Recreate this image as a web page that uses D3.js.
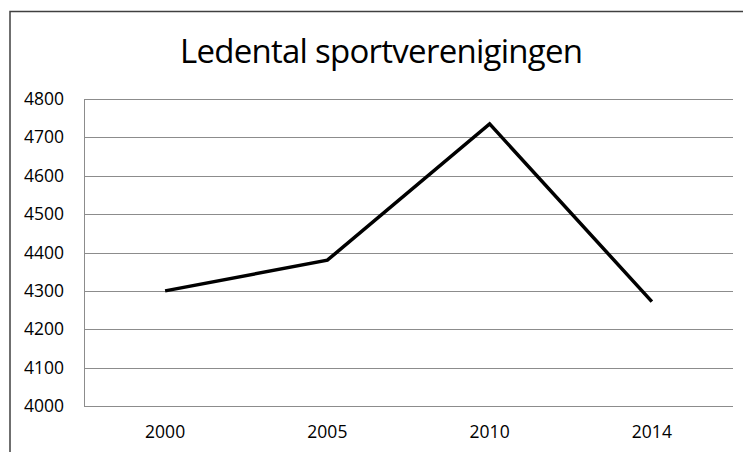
<!DOCTYPE html>
<html><head><meta charset="utf-8">
<script src="https://cdn.jsdelivr.net/npm/d3@7"></script>
<style>html,body{margin:0;padding:0;background:#fff;overflow:hidden}</style>
</head><body>
<svg id="c" width="743" height="452"></svg>
<script>
const title = "Ledental sportverenigingen";
const years = ["2000", "2005", "2010", "2014"];
const members = [4300, 4380, 4735, 4272];
const yTicks = [4000, 4100, 4200, 4300, 4400, 4500, 4600, 4700, 4800];

const svg = d3.select("#c");
const font = "'Open Sans', sans-serif";
// outer border (only top and left visible)
svg.append("rect").attr("x", 10).attr("y", 11.5).attr("width", 760).attr("height", 460)
  .attr("fill", "#fff").attr("stroke", "#404040").attr("stroke-width", 1.5);

const L = 84, R = 733, T = 99, B = 406;
const x = d3.scaleBand().domain(years).range([L, R]);
const y = d3.scaleLinear().domain([4000, 4800]).range([B, T]);

// gridlines
svg.append("g").selectAll("line").data(yTicks).join("line")
  .attr("x1", L).attr("x2", R).attr("y1", d => Math.round(y(d)) + 0.5).attr("y2", d => Math.round(y(d)) + 0.5)
  .attr("stroke", "#8c8c8c").attr("stroke-width", 1);
// left axis line
svg.append("line").attr("x1", L + 0.5).attr("x2", L + 0.5).attr("y1", T).attr("y2", B)
  .attr("stroke", "#8c8c8c");

// y axis labels
const yAxis = d3.axisLeft(y).tickValues(yTicks).tickSize(0).tickPadding(20).tickFormat(d3.format("d"));
const gy = svg.append("g").attr("transform", `translate(${L},0)`).call(yAxis);
gy.select(".domain").remove();
gy.selectAll("text").attr("font-family", font).attr("font-size", 17.5).attr("fill", "#000");

// x axis labels
const xAxis = d3.axisBottom(x).tickSize(0).tickPadding(20);
const gx = svg.append("g").attr("transform", `translate(0,${B})`).call(xAxis);
gx.select(".domain").remove();
gx.selectAll("text").attr("font-family", font).attr("font-size", 17.5).attr("fill", "#000");

// line
const line = d3.line().x((d, i) => x(years[i]) + x.bandwidth() / 2).y(d => y(d));
svg.append("path").datum(members).attr("d", line).attr("fill", "none")
  .attr("stroke", "#000").attr("stroke-width", 3.5).attr("stroke-linejoin", "miter");

// title
svg.append("text").attr("x", 381.5).attr("y", 63).attr("text-anchor", "middle")
  .attr("font-family", font).attr("font-size", 33).attr("fill", "#000")
  .attr("textLength", 403).attr("lengthAdjust", "spacing").text(title);
</script>
</body></html>
